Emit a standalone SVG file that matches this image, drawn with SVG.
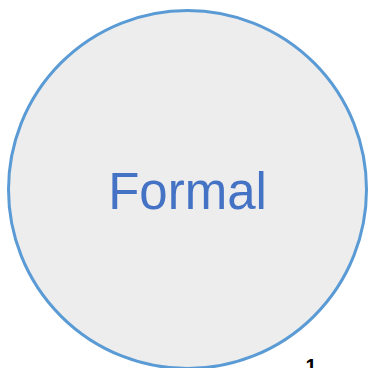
<svg xmlns="http://www.w3.org/2000/svg" width="368" height="368" viewBox="0 0 368 368">
  <style>
    .node-shape { fill: #EDEDED; stroke: #5B9BD5; stroke-width: 3; }
    .node-label { font-family: "Liberation Sans", Arial, sans-serif; font-size: 51px; fill: #4472C4; }
    .page-num { font-family: "Liberation Sans", Arial, sans-serif; font-size: 20px; font-weight: bold; fill: #000000; }
  </style>
  <rect width="368" height="368" fill="#FFFFFF"/>
  <g id="node-formal">
    <circle class="node-shape" cx="187.5" cy="189.5" r="179"/>
    <text class="node-label" x="187.5" y="209" text-anchor="middle">Formal</text>
  </g>
  <g id="connectors"/>
  <text class="page-num" x="311" y="373" text-anchor="middle">1</text>
</svg>
